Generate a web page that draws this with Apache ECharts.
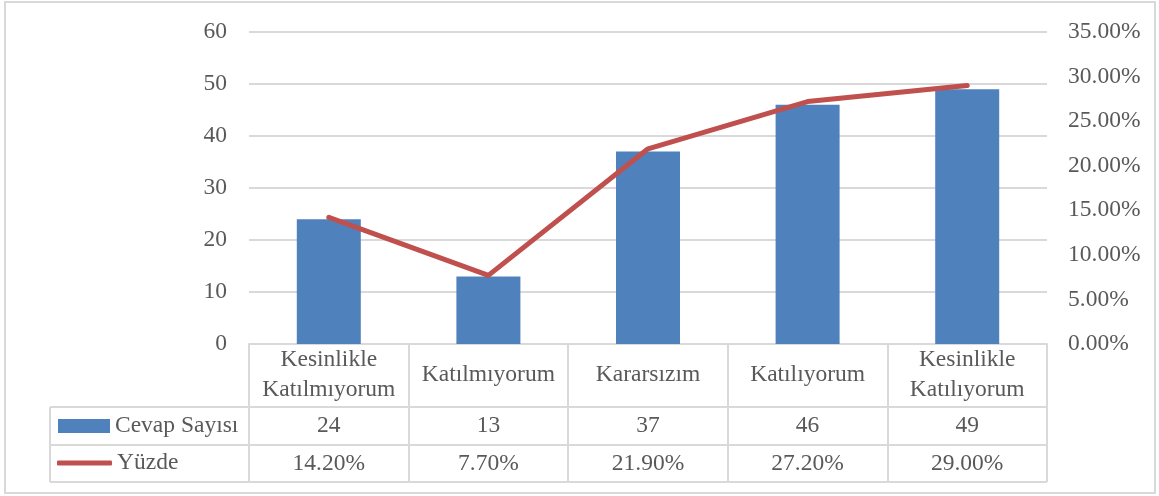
<!DOCTYPE html>
<html>
<head>
<meta charset="utf-8">
<script src="https://cdn.jsdelivr.net/npm/echarts@6/dist/echarts.min.js"></script>
<style>
  html, body { margin: 0; padding: 0; background: #fff; }
  #chart { width: 1159px; height: 496px; }
</style>
</head>
<body>
<div id="chart"></div>
<script>
  // veriler
  var categories = ['Kesinlikle Katılmıyorum', 'Katılmıyorum', 'Kararsızım', 'Katılıyorum', 'Kesinlikle Katılıyorum'];
  var cevapSayisi = [24, 13, 37, 46, 49];
  var yuzde = [14.2, 7.7, 21.9, 27.2, 29.0];
  var leftTicks = { min: 0, max: 60, interval: 10 };
  var rightTicks = { min: 0, max: 35, interval: 5 };

  var textColor = '#595959';
  var lineColor = '#d9d9d9';
  var font = 'Liberation Serif';
  var fsize = 23.5;

  var chart = echarts.init(document.getElementById('chart'));

  // tablo satirlari icin ortak eksen ayari
  function rowAxis(data, margin) {
    return {
      type: 'category',
      gridIndex: 0,
      position: 'bottom',
      data: data,
      axisLine: { show: false },
      axisTick: { show: false },
      splitLine: { show: false },
      axisLabel: {
        interval: 0,
        margin: margin,
        verticalAlign: 'middle',
        color: textColor,
        fontFamily: font,
        fontSize: fsize,
        lineHeight: 30
      }
    };
  }

  var option = {
    animation: false,
    grid: { left: 249, right: 112, top: 32, bottom: 152, containLabel: false },
    legend: [{
      left: 58, top: 413, padding: 0,
      icon: 'rect', itemWidth: 52, itemHeight: 14,
      data: ['Cevap Sayısı'],
      textStyle: { color: textColor, fontFamily: font, fontSize: fsize, lineHeight: 26 }
    }, {
      left: 57, top: 450, padding: 0,
      icon: 'roundRect', itemWidth: 55, itemHeight: 5,
      data: ['Yüzde'],
      textStyle: { color: textColor, fontFamily: font, fontSize: fsize, lineHeight: 26 }
    }],
    xAxis: [
      {
        type: 'category',
        data: categories,
        axisLine: { show: true, lineStyle: { color: lineColor, width: 2 } },
        axisTick: { show: true, interval: 0, length: 138, lineStyle: { color: lineColor, width: 2 } },
        axisLabel: {
          interval: 0, margin: 31, verticalAlign: 'middle',
          color: textColor, fontFamily: font, fontSize: fsize, lineHeight: 30,
          formatter: function (v) { return v.replace(' ', '\n'); }
        }
      },
      rowAxis(cevapSayisi.map(String), 82),
      rowAxis(yuzde.map(function (v) { return v.toFixed(2) + '%'; }), 120)
    ],
    yAxis: [{
      type: 'value',
      min: leftTicks.min, max: leftTicks.max, interval: leftTicks.interval,
      axisLine: { show: false }, axisTick: { show: false },
      axisLabel: { margin: 22, color: textColor, fontFamily: font, fontSize: fsize },
      splitLine: { lineStyle: { color: lineColor, width: 2 } }
    }, {
      type: 'value',
      min: rightTicks.min, max: rightTicks.max, interval: rightTicks.interval,
      axisLine: { show: false }, axisTick: { show: false },
      axisLabel: {
        margin: 21, color: textColor, fontFamily: font, fontSize: fsize,
        formatter: function (v) { return v.toFixed(2) + '%'; }
      },
      splitLine: { show: false }
    }],
    graphic: [
      { type: 'rect', silent: true, shape: { x: 5, y: 2, width: 1150, height: 491 },
        style: { fill: 'none', stroke: lineColor, lineWidth: 2 } },
      { type: 'line', silent: true, shape: { x1: 50, y1: 407, x2: 1047, y2: 407 }, style: { stroke: lineColor, lineWidth: 2 } },
      { type: 'line', silent: true, shape: { x1: 50, y1: 445, x2: 1047, y2: 445 }, style: { stroke: lineColor, lineWidth: 2 } },
      { type: 'line', silent: true, shape: { x1: 50, y1: 482, x2: 1047, y2: 482 }, style: { stroke: lineColor, lineWidth: 2 } },
      { type: 'line', silent: true, shape: { x1: 50, y1: 407, x2: 50, y2: 482 }, style: { stroke: lineColor, lineWidth: 2 } }
    ],
    series: [{
      name: 'Cevap Sayısı',
      type: 'bar',
      xAxisIndex: 0, yAxisIndex: 0,
      data: cevapSayisi,
      barWidth: 64,
      itemStyle: { color: '#4f81bd' }
    }, {
      name: 'Yüzde',
      type: 'line',
      xAxisIndex: 0, yAxisIndex: 1,
      data: yuzde,
      symbol: 'none',
      lineStyle: { color: '#c0504d', width: 5, cap: 'round', join: 'round' },
      itemStyle: { color: '#c0504d' }
    }]
  };

  chart.setOption(option);
</script>
</body>
</html>
